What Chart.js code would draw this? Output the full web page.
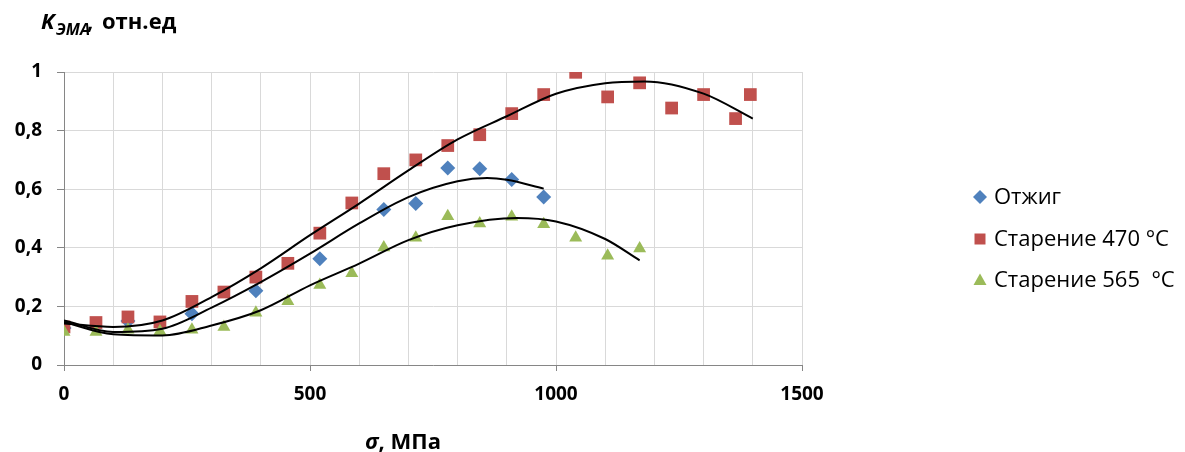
<!DOCTYPE html>
<html>
<head>
<meta charset="utf-8">
<script src="https://cdn.jsdelivr.net/npm/chart.js@4/dist/chart.umd.min.js"></script>
<style>
  html, body { margin: 0; padding: 0; background: #fff; }
  #wrap { width: 1185px; height: 452px; position: relative; }
</style>
</head>
<body>
<div id="wrap"><canvas id="chart" width="1185" height="452"></canvas></div>
<script>
// data
const seriesNames = ['Отжиг', 'Старение 470 °C', 'Старение 565  °C'];

const annealX = [0, 130, 260, 390, 520, 650, 715, 780, 845, 910, 975];
const annealY = [0.126, 0.15, 0.175, 0.253, 0.363, 0.531, 0.551, 0.672, 0.670, 0.633, 0.573];

const age470X = [0, 65, 130, 195, 260, 325, 390, 455, 520, 585, 650, 715, 780, 845, 910, 975, 1040, 1105, 1170, 1235, 1300, 1365, 1395];
const age470Y = [0.13, 0.145, 0.164, 0.147, 0.217, 0.249, 0.30, 0.347, 0.45, 0.553, 0.653, 0.70, 0.749, 0.786, 0.858, 0.923, 0.999, 0.915, 0.963, 0.877, 0.923, 0.841, 0.923];

const age565X = [0, 65, 130, 195, 260, 325, 390, 455, 520, 585, 650, 715, 780, 845, 910, 975, 1040, 1105, 1170];
const age565Y = [0.113, 0.113, 0.12, 0.115, 0.12, 0.13, 0.178, 0.218, 0.273, 0.313, 0.401, 0.434, 0.508, 0.483, 0.506, 0.48, 0.434, 0.373, 0.398];

// trend lines
const trendAnnealX = [0, 100, 200, 300, 400, 500, 600, 700, 800, 860, 900, 975];
const trendAnnealY = [0.152, 0.113, 0.124, 0.196, 0.283, 0.380, 0.483, 0.573, 0.627, 0.638, 0.632, 0.602];
const trend470X = [0, 100, 200, 300, 400, 500, 600, 700, 800, 900, 1000, 1100, 1180, 1300, 1400];
const trend470Y = [0.142, 0.130, 0.152, 0.232, 0.330, 0.443, 0.551, 0.664, 0.770, 0.849, 0.926, 0.962, 0.968, 0.926, 0.841];
const trend565X = [0, 100, 200, 300, 400, 500, 600, 700, 800, 920, 1000, 1100, 1170];
const trend565Y = [0.147, 0.105, 0.101, 0.135, 0.187, 0.272, 0.346, 0.426, 0.477, 0.502, 0.490, 0.430, 0.357];

const xTicks = [0, 500, 1000, 1500];

const colors = ['#4f81bd', '#c0504d', '#9bbb59'];
const shapes = ['rectRot', 'rect', 'triangle'];

const pts = (xs, ys) => xs.map((x, i) => ({ x: x, y: ys[i] }));

const trend = (xs, ys) => ({
  type: 'line',
  data: pts(xs, ys),
  showLine: true,
  borderColor: '#000',
  borderWidth: 2,
  pointRadius: 0,
  pointHoverRadius: 0,
  cubicInterpolationMode: 'monotone',
  fill: false,
  order: 0,
});

const marks = (i, xs, ys, radius, order) => ({
  label: seriesNames[i],
  data: pts(xs, ys),
  showLine: false,
  pointStyle: shapes[i],
  pointRadius: radius,
  pointBackgroundColor: colors[i],
  pointBorderWidth: 0,
  borderColor: colors[i],
  order: order,
});

const FONT = '"Open Sans", "DejaVu Sans", sans-serif';

// titles and legend drawn by hand
const decor = {
  id: 'decor',
  afterDraw(chart) {
    const ctx = chart.ctx;
    ctx.save();
    ctx.fillStyle = '#000';
    ctx.textBaseline = 'alphabetic';
    ctx.textAlign = 'left';

    // y title
    ctx.font = 'italic bold 22px ' + FONT;
    ctx.fillText('K', 41, 29);
    ctx.font = 'italic bold 16px ' + FONT;
    ctx.fillText('ЭМА', 56, 35);
    let x = 56 + ctx.measureText('ЭМА').width;
    ctx.font = 'bold 22px ' + FONT;
    ctx.fillText(',', x - 3, 29);
    ctx.fillText('отн.ед', 102, 29);

    // x title
    ctx.font = 'italic bold 22px ' + FONT;
    const w1 = ctx.measureText('σ').width;
    ctx.fillText('σ', 365, 449);
    ctx.font = 'bold 22px ' + FONT;
    ctx.fillText(', МПа', 365 + w1, 449);

    // legend
    const rows = [197, 239, 280];
    ctx.font = '22px ' + FONT;
    ctx.textBaseline = 'middle';
    rows.forEach((y, i) => {
      const cx = 980;
      ctx.fillStyle = colors[i];
      ctx.beginPath();
      if (i === 0) {
        ctx.moveTo(cx, y - 7); ctx.lineTo(cx + 7, y); ctx.lineTo(cx, y + 7); ctx.lineTo(cx - 7, y);
      } else if (i === 1) {
        ctx.rect(cx - 5.5, y - 5.5, 11, 11);
      } else {
        ctx.moveTo(cx, y - 6.5); ctx.lineTo(cx + 6.5, y + 5); ctx.lineTo(cx - 6.5, y + 5);
      }
      ctx.closePath();
      ctx.fill();
      ctx.fillStyle = '#000';
      ctx.fillText(seriesNames[i], 994, y + 1);
    });
    ctx.restore();
  }
};

const ctx = document.getElementById('chart').getContext('2d');
const chart = new Chart(ctx, {
  type: 'scatter',
  data: {
    datasets: [
      trend(trend470X, trend470Y),
      trend(trendAnnealX, trendAnnealY),
      trend(trend565X, trend565Y),
      marks(2, age565X, age565Y, 7.5, 1),
      marks(1, age470X, age470Y, 9, 2),
      marks(0, annealX, annealY, 7.5, 3),
    ],
  },
  options: {
    responsive: false,
    animation: false,
    events: [],
    layout: { padding: { left: 0, top: 72, right: 383, bottom: 0 } },
    plugins: {
      legend: { display: false },
      tooltip: { enabled: false },
      title: { display: false },
    },
    scales: {
      x: {
        type: 'linear',
        min: 0,
        max: 1500,
        afterFit: (scale) => { scale.height = 87; },
        afterBuildTicks: (scale) => {
          const t = [];
          for (let v = 0; v <= 1500; v += 100) t.push({ value: v });
          scale.ticks = t;
        },
        ticks: {
          autoSkip: false,
          maxRotation: 0,
          padding: 12,
          color: '#000',
          font: { family: FONT, size: 19, weight: 'bold' },
          callback: (v) => (xTicks.includes(v) ? String(v) : ''),
        },
        grid: {
          color: '#d9d9d9',
          lineWidth: 1,
          tickLength: 6,
          tickColor: (c) => (c.tick && xTicks.includes(c.tick.value) ? '#868686' : 'rgba(0,0,0,0)'),
        },
        border: { color: '#868686', width: 1 },
      },
      y: {
        type: 'linear',
        min: 0,
        max: 1,
        afterFit: (scale) => { scale.width = 64; },
        ticks: {
          stepSize: 0.2,
          padding: 15,
          color: '#000',
          font: { family: FONT, size: 19, weight: 'bold' },
          callback: (v) => String(Math.round(v * 10) / 10).replace('.', ','),
        },
        grid: {
          color: '#d9d9d9',
          lineWidth: 1,
          tickLength: 7,
          tickColor: '#868686',
        },
        border: { color: '#868686', width: 1 },
      },
    },
  },
  plugins: [decor],
});
</script>
</body>
</html>
